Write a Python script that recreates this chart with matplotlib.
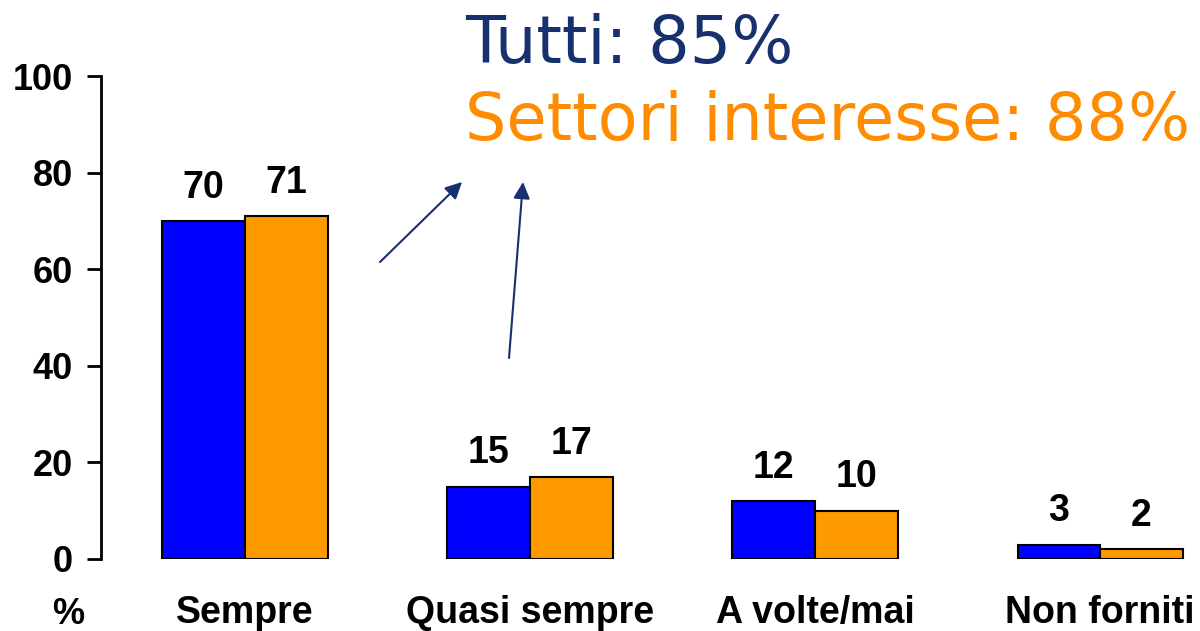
import matplotlib
matplotlib.use("Agg")
import matplotlib.pyplot as plt
import numpy as np

categories = ["Sempre", "Quasi sempre", "A volte/mai", "Non forniti"]
tutti = [70, 15, 12, 3]
settori = [71, 17, 10, 2]
yticks = [0, 20, 40, 60, 80, 100]

plt.rcParams['font.family'] = ['Liberation Sans', 'DejaVu Sans']

fig = plt.figure(figsize=(12, 6.31), dpi=100)
ax = fig.add_axes([101/1200, 1-559/631, 1-101/1200, (559-76)/631])

x = np.arange(len(categories))
w = 0.29
b1 = ax.bar(x - w/2, tutti, w, color='#0000FF', edgecolor='black', linewidth=1.5)
b2 = ax.bar(x + w/2, settori, w, color='#FF9900', edgecolor='black', linewidth=1.5)

for bars, vals in ((b1, tutti), (b2, settori)):
    for r, v in zip(bars, vals):
        ax.annotate(str(v), (r.get_x() + r.get_width()/2, v), xytext=(0, 11),
                    textcoords='offset points', ha='center', va='bottom',
                    fontsize=27, fontweight='bold')

ax.set_xlim(-0.505, 3.35)
ax.set_ylim(0, 100)
ax.set_yticks(yticks)
ax.set_yticklabels([str(t) for t in yticks], fontsize=26, fontweight='bold')
ax.set_xticks(x)
ax.set_xticklabels(categories, fontsize=27, fontweight='bold')
ax.tick_params(axis='x', length=0, pad=26)
ax.tick_params(axis='y', length=10, width=2, direction='out', pad=10)
for s in ('top', 'right', 'bottom'):
    ax.spines[s].set_visible(False)
ax.spines['left'].set_linewidth(2)

fig.text(68/1200, 1-614/631, '%', fontsize=26, fontweight='bold', ha='center', va='center')

navy = '#17306E'
fig.text(465/1200, 1-63/631, 'Tutti: 85%', fontsize=47, color=navy,
         family='DejaVu Sans', ha='left', va='baseline')
fig.text(465/1200, 1-140/631, 'Settori interesse: 88%', fontsize=47, color='#FF8C00',
         family='DejaVu Sans', ha='left', va='baseline')

for (x0, y0), (x1, y1) in (((380, 262), (462, 182)), ((509, 358), (523, 182))):
    fig.add_artist(matplotlib.patches.FancyArrowPatch(
        (x0/1200, 1-y0/631), (x1/1200, 1-y1/631), transform=fig.transFigure,
        arrowstyle='-|>', mutation_scale=25, color=navy, linewidth=1.5,
        shrinkA=0, shrinkB=0))

fig.savefig('out.png', dpi=100)
